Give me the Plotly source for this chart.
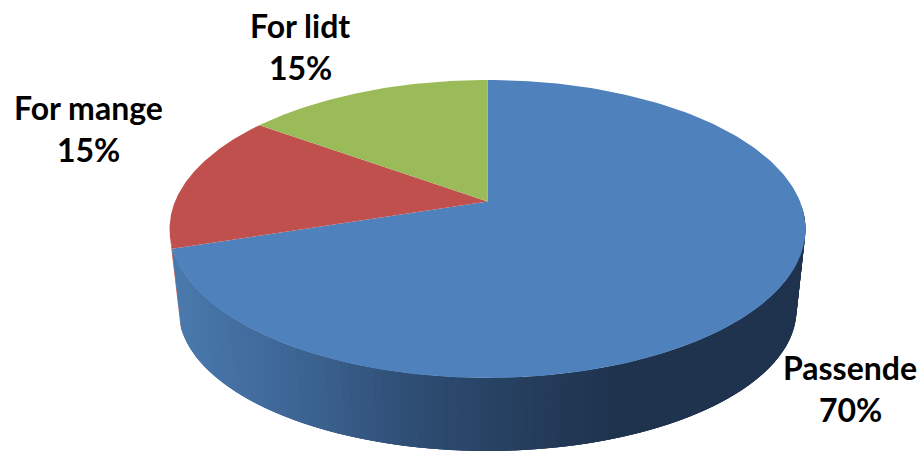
import numpy as np
import plotly.graph_objects as go

categories = ["Passende", "For mange", "For lidt"]
values = [70, 15, 15]
colors = ["#4f81bd", "#c0504d", "#9bbb59"]

W, H = 920, 451
CX, PIE_CY = 487.5, 201.5
TOP_Y, BOT_Y = 80.0, 378.0
TOP_RX, TOP_CY, TOP_RY = 318.0, 229.0, 149.0
BASE_RX, BASE_CY, BASE_RY = 309.0, 310.0, 141.0

# Perspective projection of the pie's disc
C = (2 * PIE_CY - BOT_Y - TOP_Y) / (BOT_Y - TOP_Y)
B = BOT_Y * (1 + C) - PIE_CY
A = TOP_RX * np.sqrt(1 - C * C)


def top_point(theta):
    v = -np.cos(theta)
    d = 1 + C * v
    return CX + A * np.sin(theta) / d, (PIE_CY + B * v) / d


def base_point(theta):
    x, y = top_point(theta)
    return CX + BASE_RX * (x - CX) / TOP_RX, BASE_CY + BASE_RY * (y - TOP_CY) / TOP_RY


def wall_color(x):
    xs = [172, 300, 440, 560, 640, 810]
    rs = [0x4b, 0x3f, 0x2e, 0x25, 0x1f, 0x1f]
    gs = [0x7b, 0x68, 0x4d, 0x3d, 0x33, 0x33]
    bs = [0xae, 0x98, 0x73, 0x5b, 0x4e, 0x4e]
    return "rgb(%d,%d,%d)" % (np.interp(x, xs, rs), np.interp(x, xs, gs), np.interp(x, xs, bs))


fig = go.Figure()

edges = np.cumsum([0] + values) / sum(values) * 2 * np.pi


def polygon(xs, ys, color):
    fig.add_trace(go.Scatter(
        x=list(xs), y=list(ys), mode="lines", fill="toself", fillcolor=color,
        line=dict(color=color, width=0), hoverinfo="skip", showlegend=False,
    ))


# Side wall: a sliver of the second slice at the far left, then the first slice
sliver = np.linspace(edges[1], edges[1] + 0.08, 6)
x1, y1 = top_point(sliver)
x2, y2 = base_point(sliver)
polygon(np.r_[x1, x2[::-1]], np.r_[y1, y2[::-1]], colors[1])

# Painted left to right; each strip runs under the next to hide the seams
strips = np.linspace(edges[1], np.pi / 2, 120)
for i in range(len(strips) - 1):
    arc = np.linspace(strips[i], strips[max(i - 3, 0)], 5)
    ax, ay = top_point(arc)
    bx, by = base_point(arc)
    polygon(np.r_[ax, bx[::-1]], np.r_[ay, by[::-1]], wall_color(ax[0]))

# Top face
for i, color in enumerate(colors):
    arc = np.linspace(edges[i], edges[i + 1], 200)
    ax, ay = top_point(arc)
    polygon(np.r_[CX, ax, CX], np.r_[PIE_CY, ay, PIE_CY], color)

label_pos = {"Passende": (850, 367, 409), "For mange": (88.5, 107, 149), "For lidt": (300, 25, 67)}
annotations = []
for name, val in zip(categories, values):
    lx, ly1, ly2 = label_pos[name]
    for text, ly in ((name, ly1), (f"{val}%", ly2)):
        annotations.append(dict(
            x=lx, y=ly, xref="x", yref="y", text=f"<b>{text}</b>", showarrow=False,
            xanchor="center", yanchor="middle",
            font=dict(family="Lato", size=32, color="#000000"),
        ))

fig.update_layout(
    width=W, height=H, autosize=False,
    margin=dict(l=0, r=0, t=0, b=0),
    paper_bgcolor="#ffffff", plot_bgcolor="#ffffff",
    showlegend=False, annotations=annotations,
    xaxis=dict(range=[0, W], visible=False, fixedrange=True),
    yaxis=dict(range=[H, 0], visible=False, fixedrange=True),
)
fig.write_html("out.html", config=dict(displayModeBar=False),
               post_script="document.body.style.margin='0';document.body.style.overflow='hidden';")
